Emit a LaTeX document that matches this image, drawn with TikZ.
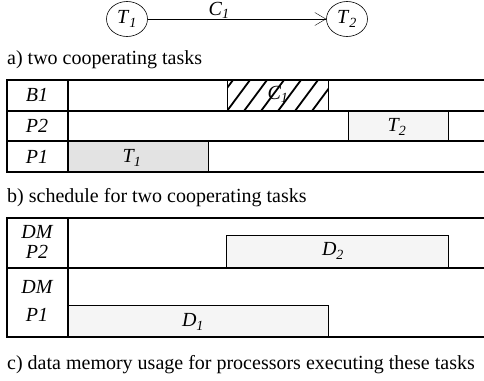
\documentclass[tikz,border=0pt]{standalone}
\usepackage{fontspec}
\setmainfont{Liberation Serif}
\usetikzlibrary{arrows.meta,shapes.geometric}
\newcommand{\sublab}[2]{\textit{#1}\textsubscript{\textit{#2}}}
\begin{document}
\begin{tikzpicture}[x=1pt,y=-1pt,font=\fontsize{20}{22}\selectfont]
		\tikzstyle{task}=[ellipse,draw=black,semithick,minimum width=41pt,minimum height=35pt,inner sep=0pt]
		\tikzstyle{edge}=[draw,thin,-{Straight Barb[length=11pt,width=13pt]}]
		\tikzstyle{grid}=[draw=black,line width=1.5pt]
		\tikzstyle{slot}=[draw=black,thin,fill=black!4]
		\tikzstyle{lab}=[inner sep=0pt,font=\fontsize{20}{22}\selectfont\itshape]
		\tikzstyle{caption}=[anchor=base west,inner sep=0pt]
		\useasboundingbox (0,0) rectangle (484,380);
		% a) task graph
		\begin{scope}
			\node [task] (t1) at (127,19) {\sublab{T}{1}};
			\node [task] (t2) at (347,19) {\sublab{T}{2}};
			\path[edge] (t1) -- node[pos=0.4,above=-1pt,inner sep=1pt] (c1) {\sublab{C}{1}} (t2);
			\node [caption] (capa) at (7,64) {a) two cooperating tasks};
		\end{scope}
		% b) schedule
		\begin{scope}
			\fill[black!11] (68,141) rectangle (208,172);
			\draw[slot] (348,111) rectangle (448,141);
			\begin{scope}
				\clip (227,80) rectangle (328,111);
				\foreach \x in {210,227,...,340}
					\draw[line width=1.8pt] (\x,111) -- ++(23,-31);
			\end{scope}
			\draw[thin] (227,80) rectangle (328,111);
			\draw[thin] (208,141) -- (208,172);
			\draw[grid] (484,80) -- (7,80) -- (7,172) -- (484,172);
			\draw[grid] (7,111) -- (484,111);
			\draw[grid] (7,141) -- (484,141);
			\draw[grid] (68,80) -- (68,172);
			\node [lab] (b1) at (37,95) {B1};
			\node [lab] (p2) at (37,126) {P2};
			\node [lab] (p1) at (37,157) {P1};
			\node [lab] (c1b) at (278,94) {\sublab{C}{1}};
			\node [lab] (t2b) at (397,127) {\sublab{T}{2}};
			\node [lab] (t1b) at (132,158) {\sublab{T}{1}};
			\node [caption] (capb) at (7,202) {b) schedule for two cooperating tasks};
		\end{scope}
		% c) data memory
		\begin{scope}
			\draw[slot] (226,235) rectangle (448,268);
			\draw[slot] (68,305) rectangle (328,337);
			\draw[grid] (484,218) -- (7,218) -- (7,337) -- (484,337);
			\draw[grid] (7,268) -- (484,268);
			\draw[grid] (68,218) -- (68,337);
			\node [lab] (dm2) at (37,232) {DM};
			\node [lab] (p2c) at (37,252) {P2};
			\node [lab] (dm1) at (37,287) {DM};
			\node [lab] (p1c) at (37,315) {P1};
			\node [lab] (d2) at (333,251) {\sublab{D}{2}};
			\node [lab] (d1) at (193,322) {\sublab{D}{1}};
			\node [caption] (capc) at (7,369) {c) data memory usage for processors executing these tasks};
		\end{scope}
\end{tikzpicture}
\end{document}
